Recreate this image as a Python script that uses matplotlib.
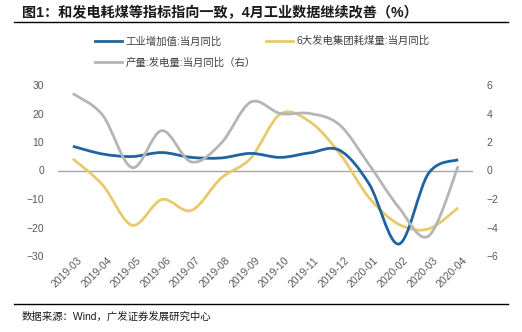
#和发电耗煤等指标指向一致，4月工业数据继续改善
import numpy as np
import matplotlib.pyplot as plt
from matplotlib.path import Path
from matplotlib.patches import PathPatch
from matplotlib.lines import Line2D
from matplotlib.transforms import ScaledTranslation

months = ["2019-03", "2019-04", "2019-05", "2019-06", "2019-07", "2019-08", "2019-09",
          "2019-10", "2019-11", "2019-12", "2020-01", "2020-02", "2020-03", "2020-04"]
industry = [8.5, 5.8, 4.9, 6.3, 4.6, 4.4, 6.0, 4.6, 6.2, 7.1, -4.8, -25.8, -1.0, 3.8]
coal = [4.1, -5.0, -19.2, -10.2, -14.0, -2.7, 4.3, 19.8, 17.1, 6.0, -9.6, -18.9, -20.5, -13.1]
power = [5.4, 3.9, 0.2, 2.8, 0.6, 1.9, 4.8, 4.0, 4.0, 3.2, 0.4, -2.6, -4.6, 0.3]

plt.rcParams['font.family'] = ['Liberation Sans', 'Noto Sans CJK SC', 'DejaVu Sans']

blue = '#1f63a0'
yellow = '#e8c96c'
grey = '#b5b5b5'

def smooth_path(x, y):
    # excel style smoothed line as bezier segments
    pts = np.column_stack([x, y]).astype(float)
    n = len(pts)
    verts = [pts[0]]
    codes = [Path.MOVETO]
    for i in range(n - 1):
        p0 = pts[max(i - 1, 0)]
        p1 = pts[i]
        p2 = pts[i + 1]
        p3 = pts[min(i + 2, n - 1)]
        c1 = p1 + (p2 - p0) / 6
        c2 = p2 - (p3 - p1) / 6
        verts += [c1, c2, p2]
        codes += [Path.CURVE4] * 3
    return Path(verts, codes)

fig = plt.figure(figsize=(5.22, 3.32), dpi=100)
ax = fig.add_axes([58 / 522, 1 - 256 / 332, 415 / 522, 171 / 332])
ax2 = ax.twinx()

x = np.arange(len(months))
ax.axhline(0, color='#a6a6a6', lw=1.0, zorder=1)
ax.add_patch(PathPatch(smooth_path(x, industry), fill=False, ec=blue, lw=2.0, zorder=4))
ax.add_patch(PathPatch(smooth_path(x, coal), fill=False, ec=yellow, lw=2.0, zorder=3))
ax2.add_patch(PathPatch(smooth_path(x, power), fill=False, ec=grey, lw=2.0, zorder=2))

ax.set_xlim(-0.5, len(months) - 0.5)
ax.set_ylim(-30, 30)
ax2.set_ylim(-6, 6)
ax.set_yticks([-30, -20, -10, 0, 10, 20, 30])
ax2.set_yticks([-6, -4, -2, 0, 2, 4, 6])
ax.set_xticks(x)
ax.set_xticklabels(months, rotation=45, ha='right', rotation_mode='anchor')

for a in (ax, ax2):
    for s in a.spines.values():
        s.set_visible(False)
    a.tick_params(length=0, labelsize=7.5, colors='#595959')
ax.tick_params(axis='y', pad=10)
ax2.tick_params(axis='y', pad=10)
ax.tick_params(axis='x', pad=1)
shift = ScaledTranslation(4 / 100, 2 / 100, fig.dpi_scale_trans)
for lbl in ax.get_xticklabels():
    lbl.set_transform(lbl.get_transform() + shift)

handles = [Line2D([], [], color=blue, lw=2.0),
           Line2D([], [], color=grey, lw=2.0),
           Line2D([], [], color=yellow, lw=2.0)]
labels = ["工业增加值:当月同比", "产量:发电量:当月同比（右）", "6大发电集团耗煤量:当月同比"]
fig.legend(handles, labels, ncol=2, loc='upper left', bbox_to_anchor=(95 / 522, 1 - 36 / 332),
           frameon=False, fontsize=7.5, handlelength=2.6, handletextpad=0.3,
           columnspacing=1.0, labelspacing=1.05, borderpad=0, borderaxespad=0,
           labelcolor='#404040')

fig.text(22 / 522, 1 - 13 / 332, "图1：和发电耗煤等指标指向一致，4月工业数据继续改善（%）",
         fontsize=10.2, fontweight='bold', color='#1a1a1a', va='center')
fig.add_artist(Line2D([14 / 522, 508 / 522], [1 - 22 / 332] * 2, color='black', lw=1.0))
fig.add_artist(Line2D([14 / 522, 508 / 522], [1 - 304 / 332] * 2, color='black', lw=1.0))
fig.text(22 / 522, 1 - 317 / 332, "数据来源：Wind，广发证券发展研究中心",
         fontsize=7.5, color='#1a1a1a', va='center')

plt.savefig('out.png', dpi=100)
